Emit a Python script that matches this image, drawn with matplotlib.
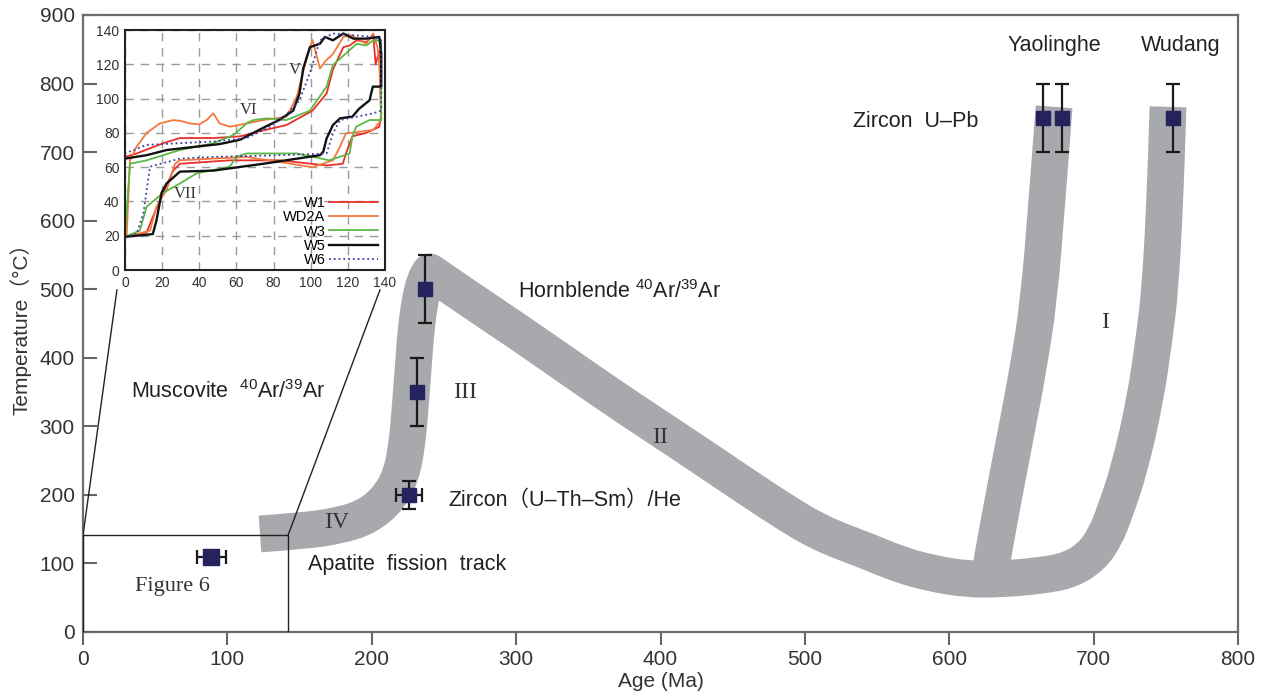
import matplotlib.pyplot as plt
from matplotlib.patches import Rectangle, PathPatch
from matplotlib.path import Path

plt.rcParams['font.family'] = ['Liberation Sans', 'Noto Sans CJK SC']
plt.rcParams['mathtext.fontset'] = 'custom'
plt.rcParams['mathtext.rm'] = 'Liberation Sans'
plt.rcParams['mathtext.default'] = 'regular'

# Trayectorias de enfriamiento (puntos de control de la banda gris), Ma / °C
banda_x = [122.6, 150.3, 178.0, 197.4, 211.3, 220.3, 224.4, 226.5, 228.6, 230.6,
           233.4, 236.9, 240.3, 240.3, 275.0, 309.6, 344.2, 378.9, 413.5, 448.1,
           482.8, 510.5, 543.0, 565.9, 588.7, 612.3, 635.2, 662.9, 683.6, 698.9,
           707.9, 714.8, 725.2, 735.6, 741.8, 746.0, 749.4, 751.5]
banda_y = [143, 147, 155, 169, 194, 228, 273, 324, 382, 440,
           484, 513, 525, 525, 475, 426, 375, 325, 277, 228,
           179, 144, 118, 98, 85, 77, 77, 82, 90, 111,
           139, 175, 241, 338, 426, 499, 630, 766]
yao_x = [627.5, 634.5, 646.2, 654.5, 662.1, 667.7, 672.6]
yao_y = [79, 163, 290, 382, 484, 630, 766]

# Edades con barras de error
upb_x = [665, 678, 755]
upb_y = [750, 750, 750]
ar_x = [237, 231]
ar_y = [500, 350]
he_x, he_y = [226], [200]
aft_x, aft_y = [89], [110]

# Modelos termicos (figura insertada): tiempo (Ma) / temperatura (°C)
w1_t = [0, 11.7, 15, 20.6, 26, 29.6, 56.5, 83.5, 108.6, 117.3, 119, 122.5, 130, 137, 138,
        137, 135, 133.7, 130, 124.8, 121, 117.6, 112, 108.6, 101, 87, 72.7, 62, 47.6, 29.6, 20.6, 6.3, 0]
w1_T = [19.4, 22, 31, 45, 58, 62, 64, 64, 61, 62, 68, 78, 80, 83.6, 91,
        128, 120, 137, 133, 134, 131, 130, 117, 103, 93, 84.6, 81, 78, 77, 77, 74, 68, 66]
wd2a_t = [0.9, 13.5, 17, 22.4, 26.9, 29.6, 65.5, 101, 112, 115.8, 119, 133.7, 138,
          137, 136, 133.7, 130, 126.5, 122, 117.6, 112, 108, 105, 101, 99, 96, 92.5, 87, 74.5,
          65.5, 56.5, 51, 47.6, 44, 40, 35, 30, 26, 18.8, 11.7, 6.3, 2.7, 0.9]
wd2a_T = [19.4, 23, 37, 46.7, 62, 64, 66, 60, 64, 72, 79.7, 81.7, 87.5,
          120, 130, 138, 132, 134, 137, 136, 126, 122, 117.6, 134.2, 128, 115.7, 101, 89.4, 87.5,
          85.5, 83.6, 85.5, 91.4, 87.5, 85, 85.5, 87, 87.5, 85.5, 80, 72, 64, 19.4]
w3_t = [0, 8, 11.7, 20.6, 29.6, 38.6, 56.5, 60, 65.5, 92.5, 110, 121, 122.5, 124.5, 131.7, 138,
        138, 133.7, 130, 124.8, 119, 112, 108.6, 99.6, 87, 76.4, 69.2, 66, 58.4, 47.6, 29.6, 11.7, 2.7, 0]
w3_T = [19.4, 23, 37, 45, 50.5, 56.4, 60.3, 66, 68, 68, 64, 68, 78, 83.6, 87.5, 87.5,
        134, 134, 131, 132, 126.4, 119.6, 107, 93, 87.5, 88.5, 87.5, 86, 78.7, 74, 70, 64, 62, 19.4]
w5_t = [0, 9.9, 15, 17, 19.7, 22.4, 29.6, 47.6, 74.5, 105, 106.8, 108.6, 112, 115.8, 122.5, 126,
        131.7, 133.5, 138, 138, 137, 130, 123, 117.6, 112, 107.7, 105, 99.6, 96, 94, 90.6, 83,
        74.5, 62, 51, 38.6, 22.4, 11.7, 0]
w5_T = [19.4, 20.4, 21, 29, 45, 50.5, 57.4, 58, 62, 67, 69, 76.8, 84.6, 88.5, 89.5, 94,
        99, 107, 107, 126, 136, 135, 135, 138, 134, 136, 132, 130, 117.6, 103, 93, 87.5,
        83, 76, 73.5, 72, 70, 67, 65]
w6_t = [0, 6.3, 9.9, 13.5, 29.6, 47.6, 83.5, 108.6, 112, 115.8, 133.7, 138,
        138, 133.7, 112, 105, 99.6, 94, 85.4, 76.4, 65.5, 47.6, 29.6, 11.7, 0]
w6_T = [19.4, 21, 33, 60.3, 65, 66, 67, 68, 79.7, 87.5, 91.4, 93,
        134, 136, 138, 134, 115, 99, 89, 82.6, 77, 75, 74, 73, 68]

gris = '#a7a9ac'
azul = '#25235e'


def banda(px, py):
    # curva suave (bezier cuadratica) que pasa por los puntos medios
    pts = list(zip(px, py))
    verts = [pts[0]]
    codes = [Path.MOVETO]
    for i in range(1, len(pts) - 1):
        mid = ((pts[i][0] + pts[i + 1][0]) / 2, (pts[i][1] + pts[i + 1][1]) / 2)
        verts += [pts[i], mid]
        codes += [Path.CURVE3, Path.CURVE3]
    verts.append(pts[-1])
    codes.append(Path.LINETO)
    return PathPatch(Path(verts, codes), fill=False, ec=gris, lw=26.5,
                     capstyle='butt', joinstyle='round', zorder=1)


fig = plt.figure(figsize=(12.75, 6.99), dpi=100)
ax = fig.add_axes([0.0651, 0.0959, 0.9059, 0.8827])

ax.add_patch(banda(banda_x, banda_y))
ax.add_patch(banda(yao_x, yao_y))

eb = dict(fmt='s', color=azul, ecolor='#1a1a1a', elinewidth=1.6, capsize=5,
          capthick=1.6, markersize=10, zorder=4)
ax.errorbar(upb_x, upb_y, yerr=50, **eb)
ax.errorbar(ar_x, ar_y, yerr=50, **eb)
ax.errorbar(he_x, he_y, yerr=20, xerr=9, **eb)
eb['markersize'] = 12
ax.errorbar(aft_x, aft_y, xerr=10, **eb)

# recuadro ampliado y lineas hacia la figura insertada
ax.add_patch(Rectangle((0, 0), 142, 141, fill=False, lw=1, ec='#222222', zorder=3))
ax.plot([0, 23.5], [141, 499], color='#222222', lw=1, zorder=3)
ax.plot([142, 205.7], [141, 499], color='#222222', lw=1, zorder=3)

fs = 15.5
ax.text(672.6, 855, 'Yaolinghe', fontsize=fs, ha='center', va='center', color='#222')
ax.text(760, 855, 'Wudang', fontsize=fs, ha='center', va='center', color='#222')
ax.text(577, 744, 'Zircon  U\u2013Pb', fontsize=fs, ha='center', va='center', color='#222')
ax.text(301, 496, r'Hornblende $^{40}$Ar/$^{39}$Ar', fontsize=fs, va='center', color='#222')
ax.text(33, 350, r'Muscovite  $^{40}$Ar/$^{39}$Ar', fontsize=fs, va='center', color='#222')
ax.text(253, 192, 'Zircon\uff08U\u2013Th\u2013Sm\uff09/He', fontsize=fs, va='center', color='#222')
ax.text(156, 98, 'Apatite  fission  track', fontsize=fs, va='center', color='#222')
serif = dict(family='Liberation Serif', va='center', ha='center', color='#333')
ax.text(265, 350, 'III', fontsize=17, **serif)
ax.text(400, 283, 'II', fontsize=17, **serif)
ax.text(708, 452, 'I', fontsize=17, **serif)
ax.text(176, 159, 'IV', fontsize=17, **serif)
ax.text(36, 67, 'Figure 6', fontsize=16, family='Liberation Serif', va='center', color='#333')

ax.set_xlim(0, 800)
ax.set_ylim(0, 900)
ax.set_xticks(range(0, 801, 100))
ax.set_yticks(range(0, 901, 100))
ax.tick_params(axis='x', direction='out', length=9, width=1.5, color='#666', labelsize=15,
               labelcolor='#333', pad=4)
ax.tick_params(axis='y', direction='in', length=10, width=1.5, color='#666', labelsize=15,
               labelcolor='#333', pad=6)
for s in ax.spines.values():
    s.set_color('#6d6d6d')
    s.set_linewidth(1.6)
ax.set_xlabel('Age (Ma)', fontsize=15, color='#333', labelpad=2)
ax.set_ylabel('Temperature\uff08\u00b0C\uff09', fontsize=15, color='#333', labelpad=6)

# figura insertada
ax2 = fig.add_axes([0.0980, 0.6137, 0.2039, 0.3433])
ax2.plot(w1_t, w1_T, color='#e8302a', lw=1.3, label='W1')
ax2.plot(wd2a_t, wd2a_T, color='#f5783c', lw=1.3, label='WD2A')
ax2.plot(w3_t, w3_T, color='#5cb846', lw=1.3, label='W3')
ax2.plot(w5_t, w5_T, color='#111111', lw=1.7, label='W5')
ax2.plot(w6_t, w6_T, color='#3d3d9c', lw=1.3, ls=':', label='W6')
ax2.set_xlim(0, 140)
ax2.set_ylim(0, 140)
ax2.set_xticks(range(0, 141, 20))
ax2.set_yticks(range(0, 141, 20))
ax2.grid(True, ls=(0, (6, 5)), color='#9a9a9a', lw=1)
ax2.tick_params(length=0, labelsize=10, labelcolor='#333', pad=4)
for s in ax2.spines.values():
    s.set_color('#222')
    s.set_linewidth(1.5)
ax2.text(66.4, 93.3, 'VI', fontsize=12, family='Liberation Serif', ha='center', va='center', color='#333')
ax2.text(32.3, 44.3, 'VII', fontsize=12, family='Liberation Serif', ha='center', va='center', color='#333')
ax2.text(91.5, 116.7, 'V', fontsize=12, family='Liberation Serif', ha='center', va='center', color='#333')
ax2.legend(loc='lower right', bbox_to_anchor=(0.985, 0.0), frameon=False, markerfirst=False,
           fontsize=10.5, labelspacing=0.02, handlelength=3.4, handletextpad=0.2,
           borderaxespad=0.1, borderpad=0.1)

fig.savefig('out.png', dpi=100)
